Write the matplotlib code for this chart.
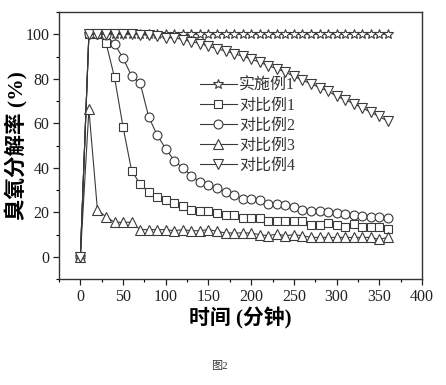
import matplotlib
matplotlib.use("Agg")
import matplotlib.pyplot as plt
from matplotlib.ticker import MultipleLocator

time_min = list(range(0, 370, 10))

ex1 = [0] + [100] * 36

cmp1 = [0, 100, 100, 96.2, 80.6, 58.3, 38.7,
        32.7, 29, 27, 25.5, 24, 23, 21, 20.4, 20.4, 19.5, 18.9, 18.6, 17.4, 17.4,
        17.4, 16.2, 16.2, 16.2, 15.9, 15.9, 14.3, 14.4, 15, 14.4, 13.2, 14.7,
        13.5, 13.5, 13.5, 12.4]

cmp2 = [0, 100, 100, 99.5, 95.6, 89.3, 81.2, 78.1, 62.9, 54.6, 48.5, 43.2,
        39.8, 36.5, 33.6, 32.4, 30.9, 29, 27.9, 25.9, 25.9, 25.5, 23.7, 23.7,
        23.2, 22.2, 21, 20.4, 20.4, 20, 19.5, 19.2, 18.9, 18.5, 18, 18, 17.4]

cmp3 = [0, 66.2, 21, 18, 15.5, 15.5, 15.5, 12.2, 12.2, 12.2, 12.2, 11.7,
        12.2, 11.7, 11.7, 12.2, 11.4, 10.7, 10.7, 10.7, 10.7, 9.9, 9.5, 10.2,
        9.5, 9.9, 9.5, 8.7, 8.7, 8.7, 8.7, 8.7, 8.7, 8.7, 8.7, 7.8, 8.7]

cmp4 = [0, 100, 100, 100, 100, 100, 100, 99.8, 99.5, 99.1, 98.5, 98.5,
        97.6, 96.7, 95.8, 94.7, 93.4, 92.5, 91.3, 90.1, 88.9, 87.4, 85.9,
        84.5, 83, 81.1, 79.3, 77.8, 76, 74.5, 72.1, 70.6, 68.8, 67, 64.9,
        63.1, 60.9]

labels = ["实施例1", "对比例1", "对比例2", "对比例3", "对比例4"]
markers = ["*", "s", "o", "^", "v"]
series = [ex1, cmp1, cmp2, cmp3, cmp4]

x_ticks = list(range(0, 401, 50))
y_ticks = list(range(0, 101, 20))

FAM = ["Liberation Serif", "Noto Sans CJK SC"]
plt.rcParams["font.family"] = FAM

fig = plt.figure(figsize=(4.46, 3.85), dpi=100)
ax = fig.add_axes([0.1323, 0.2753, 0.8139, 0.6935])

col = "#3a3a3a"
sizes = {"*": 7.5, "s": 5.8, "o": 6.4, "^": 6.8, "v": 6.8}
handles = []
for ys, m, lab in zip(series, markers, labels):
    h, = ax.plot(time_min, ys, marker=m, ms=sizes[m], mfc="white", mec=col,
                 mew=0.8, color=col, lw=0.8, label=lab)
    handles.append(h)

ax.set_xlim(-25, 400)
ax.set_ylim(-10, 110)
ax.set_xticks(x_ticks)
ax.set_yticks(y_ticks)
ax.xaxis.set_minor_locator(MultipleLocator(25))
ax.yaxis.set_minor_locator(MultipleLocator(10))
ax.tick_params(axis="both", which="major", direction="out", length=4,
               width=0.9, labelsize=11.5, colors="#222222", pad=3)
ax.tick_params(axis="both", which="minor", direction="out", length=2.5,
               width=0.8)
ax.tick_params(top=False, right=False)
for s in ax.spines.values():
    s.set_linewidth(1.0)
    s.set_color("#333333")

ax.set_ylabel("臭氧分解率 (%)", fontsize=15.5, fontweight="bold",
              va="center")
ax.yaxis.set_label_coords(-0.118, 0.5)
ax.set_xlabel("时间 (分钟)", fontsize=15, fontweight="bold", labelpad=2)

leg = ax.legend(handles=handles, loc="upper left",
                bbox_to_anchor=(200 / 446, 1 - 78 / 385),
                bbox_transform=fig.transFigure, frameon=False,
                fontsize=11.5, handlelength=2.3, handletextpad=0.15,
                labelspacing=0.25, borderpad=0, borderaxespad=0)
for t in leg.get_texts():
    t.set_color("#333333")

fig.text(219 / 446, 1 - 366 / 385, "图2", ha="center", va="center",
         fontsize=8, color="#333333")

fig.savefig("out.png", dpi=100, facecolor="white")
